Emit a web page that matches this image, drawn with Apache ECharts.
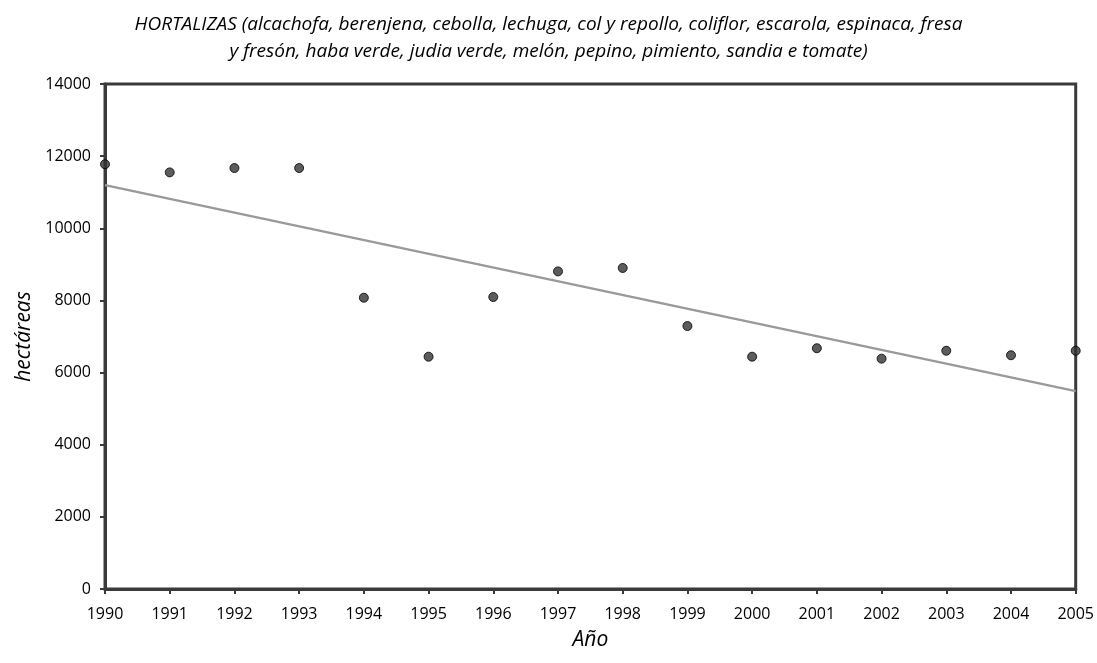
<!DOCTYPE html>
<html>
<head>
<meta charset="utf-8">
<script src="https://cdn.jsdelivr.net/npm/echarts@6/dist/echarts.min.js"></script>
<style>html,body{margin:0;padding:0;background:#fff}#c{width:1097px;height:663px}</style>
</head>
<body>
<div id="c"></div>
<script>
var years = [1990,1991,1992,1993,1994,1995,1996,1997,1998,1999,2000,2001,2002,2003,2004,2005];
var hectareas = [11775,11550,11670,11670,8075,6440,8095,8805,8900,7290,6440,6675,6385,6605,6480,6605];
var titleText = 'HORTALIZAS (alcachofa, berenjena, cebolla, lechuga, col y repollo, coliflor, escarola, espinaca, fresa\ny fresón, haba verde, judia verde, melón, pepino, pimiento, sandia e tomate)';
var xName = 'Año';
var yName = 'hectáreas';

// linear least-squares trend line
var n = years.length, sx=0, sy=0, sxx=0, sxy=0;
for (var i=0;i<n;i++){sx+=years[i];sy+=hectareas[i];sxx+=years[i]*years[i];sxy+=years[i]*hectareas[i];}
var slope = (n*sxy - sx*sy)/(n*sxx - sx*sx);
var icpt = (sy - slope*sx)/n;
var x0 = years[0], x1 = years[n-1];
var trend = [[x0, icpt+slope*x0],[x1, icpt+slope*x1]];

var font = 'Open Sans';
var chart = echarts.init(document.getElementById('c'));
chart.setOption({
  animation:false,
  title:{text:titleText,left:'center',top:6,textStyle:{fontFamily:font,fontStyle:'italic',fontWeight:'normal',fontSize:19,color:'#000',lineHeight:27}},
  grid:{left:105,right:19,top:84,bottom:74,show:true,borderColor:'#3a3a3a',borderWidth:3,backgroundColor:'transparent'},
  xAxis:{type:'value',min:1990,max:2005,interval:1,name:xName,nameLocation:'middle',nameGap:41,
    nameTextStyle:{fontFamily:font,fontStyle:'italic',fontSize:21,color:'#000'},
    axisLine:{show:true,lineStyle:{color:'#3a3a3a',width:3}},
    axisTick:{show:true,length:5,lineStyle:{color:'#3a3a3a',width:2}},
    axisLabel:{fontFamily:font,fontSize:16,color:'#000',margin:17,formatter:function(v){return String(v);}},
    splitLine:{show:false}},
  yAxis:{type:'value',min:0,max:14000,interval:2000,name:yName,nameLocation:'middle',nameGap:70,
    nameTextStyle:{fontFamily:font,fontStyle:'italic',fontSize:21,color:'#000'},
    axisLine:{show:true,lineStyle:{color:'#3a3a3a',width:3}},
    axisTick:{show:true,length:5,lineStyle:{color:'#3a3a3a',width:2}},
    axisLabel:{fontFamily:font,fontSize:16,color:'#000',margin:14,formatter:function(v){return String(v);}},
    splitLine:{show:false}},
  series:[
    {type:'line',data:trend,symbol:'none',lineStyle:{color:'#999999',width:2.5},silent:true,z:2},
    {type:'scatter',data:years.map(function(y,i){return [y,hectareas[i]];}),symbol:'circle',symbolSize:9,
     itemStyle:{color:'#333333',borderColor:'#000',borderWidth:1},z:3}
  ]
});
</script>
</body>
</html>
